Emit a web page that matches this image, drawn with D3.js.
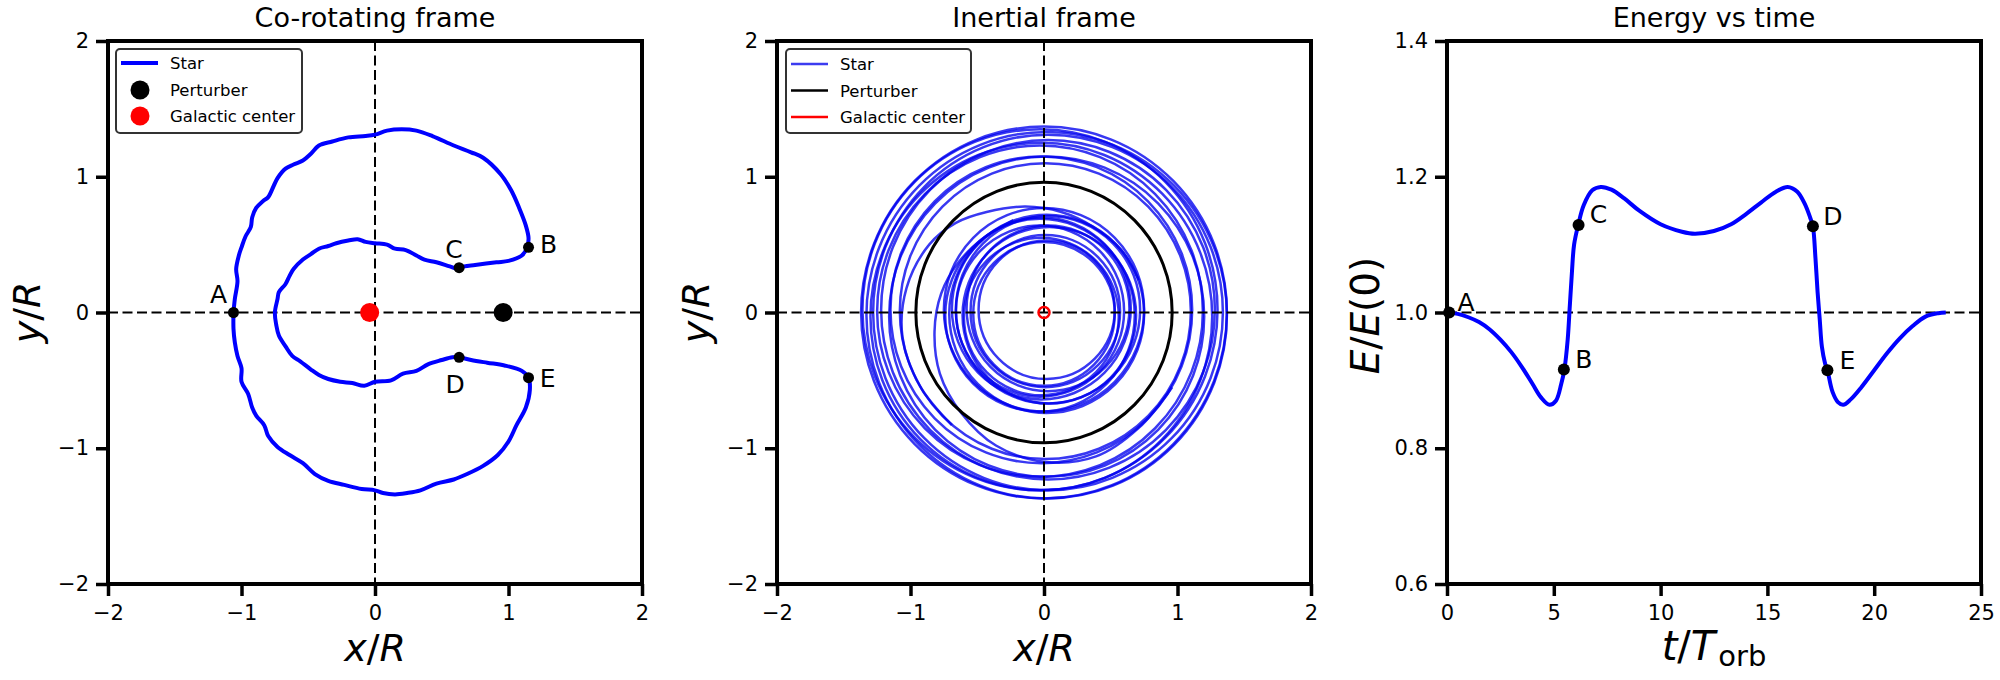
<!DOCTYPE html>
<html><head><meta charset="utf-8">
<script src="https://cdn.jsdelivr.net/npm/d3@7"></script>
<style>body{margin:0;background:#fff} svg{display:block} text{font-family:"DejaVu Sans",sans-serif;fill:#000}</style>
</head><body><svg id="c" width="2000" height="680"></svg>
<script>
// ---------- data ----------
const xyTicks = [-2, -1, 0, 1, 2];
const timeTicks = [0, 5, 10, 15, 20, 25];
const energyTicks = [0.6, 0.8, 1.0, 1.2, 1.4];

// co-rotating frame star track (A -> upper outer -> B -> C -> inner -> D -> E -> lower outer -> A)
const starX = [-1.06,-1.05,-1.03,-1.04,-1.02,-1.00,-0.97,-0.93,-0.92,-0.89,-0.84,-0.80,-0.76,-0.73,-0.67,-0.61,-0.54,-0.48,-0.42,-0.32,-0.20,-0.07,0.00,0.09,0.20,0.31,0.43,0.59,0.72,0.81,0.94,1.02,1.08,1.13,1.15,1.14,
  1.10,1.00,0.91,0.75,0.67,0.63,0.56,0.46,0.37,0.31,0.23,0.15,0.09,0.00,-0.07,-0.13,-0.20,-0.29,-0.35,-0.42,-0.48,-0.54,-0.61,-0.64,-0.67,-0.72,-0.73,-0.75,
  -0.74,-0.72,-0.67,-0.62,-0.56,-0.48,-0.42,-0.35,-0.26,-0.17,-0.08,0.00,0.12,0.21,0.31,0.40,0.50,0.58,0.63,0.72,0.84,0.97,1.10,1.15,
  1.16,1.13,1.06,1.00,0.92,0.81,0.69,0.59,0.46,0.34,0.24,0.15,0.06,0.00,-0.10,-0.23,-0.35,-0.45,-0.54,-0.64,-0.73,-0.80,-0.83,-0.89,-0.92,-0.95,-1.00,-1.00,-1.03,-1.05,-1.06,-1.06];
const starY = [0.00,0.10,0.23,0.32,0.42,0.48,0.56,0.63,0.70,0.77,0.82,0.85,0.93,0.99,1.06,1.09,1.12,1.17,1.23,1.26,1.29,1.30,1.31,1.34,1.35,1.34,1.30,1.23,1.18,1.14,1.02,0.90,0.77,0.64,0.55,0.48,
  0.42,0.38,0.37,0.35,0.34,0.32,0.34,0.37,0.39,0.42,0.46,0.47,0.50,0.51,0.52,0.54,0.53,0.51,0.49,0.47,0.43,0.39,0.32,0.27,0.21,0.15,0.10,0.00,
  -0.09,-0.17,-0.25,-0.32,-0.36,-0.42,-0.46,-0.49,-0.51,-0.52,-0.54,-0.51,-0.50,-0.45,-0.43,-0.38,-0.35,-0.33,-0.33,-0.35,-0.37,-0.39,-0.43,-0.48,
  -0.57,-0.70,-0.83,-0.95,-1.05,-1.13,-1.19,-1.23,-1.26,-1.31,-1.33,-1.34,-1.33,-1.31,-1.30,-1.27,-1.24,-1.19,-1.11,-1.05,-0.99,-0.91,-0.83,-0.76,-0.70,-0.60,-0.51,-0.41,-0.32,-0.22,-0.12,0.00];

const pointLabels = ["A", "B", "C", "D", "E"];
const pointX = [-1.06, 1.15, 0.63, 0.63, 1.15];
const pointY = [0.00, 0.48, 0.33, -0.33, -0.48];
const perturberXY = [0.96, 0.0];
const centerXY = [-0.04, 0.0];

// inertial frame: star loops (centre x, centre y, radius)
const perturberOrbitR = 0.96;
const loopCx = [0.00,0.02,-0.03,0.03,-0.02,0.03,-0.03,0.02,-0.02,0.01, 0.00,0.02,-0.03,0.03,-0.02,0.04,-0.03,0.03,-0.02,0.01,0.00,0.02];
const loopCy = [0.00,-0.02,0.02,0.00,-0.03,0.02,0.01,-0.03,0.02,0.01, 0.02,-0.01,-0.02,0.02,0.03,-0.02,0.01,0.03,-0.03,0.01,-0.01,0.02];
const loopR  = [1.37,1.35,1.33,1.31,1.28,1.25,1.22,1.18,1.13,1.09, 0.75,0.73,0.71,0.69,0.67,0.65,0.63,0.61,0.58,0.56,0.53,0.51];
// transition arcs between the outer and inner rings
const transOutInX = [-0.69,-0.93,-1.06,-1.03,-0.86,-0.66,-0.43,-0.14,0.13,0.37,0.58,0.71];
const transOutInY = [-0.83,-0.54,-0.18,0.18,0.50,0.66,0.74,0.78,0.74,0.63,0.46,0.24];
const transInOutX = [-0.23,-0.45,-0.64,-0.77,-0.82,-0.78,-0.62,-0.36,0.00,0.39,0.71,0.96];
const transInOutY = [0.68,0.55,0.37,0.14,-0.14,-0.45,-0.74,-0.98,-1.10,-1.06,-0.85,-0.55];

// energy vs time
const timeVals = [0.0,0.5,1.0,1.5,2.0,2.5,3.0,3.5,4.0,4.4,4.8,5.1,5.35,5.5,5.65,5.75,5.85,5.95,6.15,6.4,6.8,7.2,7.7,8.3,9.0,10.0,11.0,11.6,12.5,13.3,14.0,14.7,15.4,15.95,16.4,16.75,17.0,17.13,17.25,17.35,17.45,17.55,17.7,17.81,18.05,18.3,18.55,18.9,19.4,20.0,20.6,21.2,21.8,22.4,23.0,23.35];
const energyVals = [1.000,0.998,0.993,0.986,0.975,0.960,0.942,0.920,0.895,0.875,0.864,0.870,0.895,0.917,0.960,1.010,1.060,1.100,1.130,1.158,1.180,1.185,1.181,1.168,1.150,1.130,1.119,1.116,1.120,1.130,1.145,1.162,1.178,1.185,1.178,1.160,1.140,1.127,1.080,1.030,0.990,0.950,0.925,0.915,0.883,0.868,0.864,0.872,0.890,0.915,0.940,0.962,0.980,0.994,0.999,1.000];
const energyPointT = [0.1, 5.47, 6.16, 17.13, 17.81];
const energyPointE = [1.000, 0.916, 1.129, 1.127, 0.915];

// ---------- drawing ----------
const svg = d3.select("#c");
const pTop = 41, pBot = 584, W = 534;
const lefts = [108, 777, 1447];

function frame(i, xDom, yDom, xt, yt, yfmt, title) {
  const L = lefts[i];
  const x = d3.scaleLinear().domain(xDom).range([L, L + W]);
  const y = d3.scaleLinear().domain(yDom).range([pBot, pTop]);
  const g = svg.append("g");
  const ax = g.append("g").attr("transform", `translate(0,${pBot})`)
    .call(d3.axisBottom(x).tickValues(xt).tickSize(12).tickSizeOuter(0).tickPadding(9).tickFormat(d3.format("")));
  const ay = g.append("g").attr("transform", `translate(${L},0)`)
    .call(d3.axisLeft(y).tickValues(yt).tickSize(12).tickSizeOuter(0).tickPadding(7).tickFormat(yfmt));
  [ax, ay].forEach(a => {
    a.select(".domain").remove();
    a.selectAll(".tick line").attr("stroke", "#000").attr("stroke-width", 3.5);
    a.selectAll(".tick text").attr("font-size", 21).attr("font-family", "DejaVu Sans").attr("fill", "#000");
  });
  svg.append("text").attr("x", L + W / 2).attr("y", 27).attr("text-anchor", "middle")
    .attr("font-size", 27).text(title);
  const body = svg.append("g");
  return { x, y, body, L };
}

function spine(L) {
  svg.append("rect").attr("x", L).attr("y", pTop).attr("width", W).attr("height", pBot - pTop)
    .attr("fill", "none").attr("stroke", "#000").attr("stroke-width", 4);
}

function dashed(g, x1, y1, x2, y2) {
  g.append("line").attr("x1", x1).attr("y1", y1).attr("x2", x2).attr("y2", y2)
    .attr("stroke", "#000").attr("stroke-width", 2).attr("stroke-dasharray", "10,4.5");
}

function xyAxisLabels(L) {
  const tx = svg.append("text").attr("x", L + W / 2).attr("y", 661).attr("text-anchor", "middle").attr("font-size", 38);
  tx.append("tspan").attr("font-style", "italic").text("x");
  tx.append("tspan").text("/");
  tx.append("tspan").attr("font-style", "italic").text("R");
  const ty = svg.append("text").attr("transform", `translate(${L - 68},${(pTop + pBot) / 2}) rotate(-90)`).attr("text-anchor", "middle").attr("font-size", 38);
  ty.append("tspan").attr("font-style", "italic").text("y");
  ty.append("tspan").text("/");
  ty.append("tspan").attr("font-style", "italic").text("R");
}

// ----- Panel 1 -----
{
  const p = frame(0, [-2, 2], [-2, 2], xyTicks, xyTicks, d3.format(""), "Co-rotating frame");
  const { x, y, body } = p;
  dashed(body, x(0), pTop, x(0), pBot);
  dashed(body, p.L, y(0), p.L + W, y(0));
  const pts = starX.map((v, i) => [x(v), y(starY[i])]);
  body.append("path").attr("d", d3.line().curve(d3.curveCatmullRom.alpha(0.5))(pts))
    .attr("fill", "none").attr("stroke", "#0000ff").attr("stroke-width", 4).attr("stroke-linejoin", "round");
  body.append("circle").attr("cx", x(centerXY[0])).attr("cy", y(centerXY[1])).attr("r", 9.5).attr("fill", "#ff0000");
  body.append("circle").attr("cx", x(perturberXY[0])).attr("cy", y(perturberXY[1])).attr("r", 9.5).attr("fill", "#000");
  const offs = { A: [-15, -18], B: [20, -3], C: [-5, -18], D: [-4, 27], E: [19, 1] };
  pointLabels.forEach((lab, i) => {
    body.append("circle").attr("cx", x(pointX[i])).attr("cy", y(pointY[i])).attr("r", 5.5).attr("fill", "#000");
    body.append("text").attr("x", x(pointX[i]) + offs[lab][0]).attr("y", y(pointY[i]) + offs[lab][1])
      .attr("text-anchor", "middle").attr("dominant-baseline", "central").attr("font-size", 25).text(lab);
  });
  spine(p.L);
  const lg = svg.append("g").attr("transform", `translate(${p.L + 8},49)`);
  lg.append("rect").attr("width", 186).attr("height", 84).attr("rx", 4).attr("fill", "#fff").attr("stroke", "#333").attr("stroke-width", 2);
  lg.append("line").attr("x1", 5).attr("x2", 42).attr("y1", 14).attr("y2", 14).attr("stroke", "#0000ff").attr("stroke-width", 4);
  lg.append("circle").attr("cx", 24).attr("cy", 41).attr("r", 9.5).attr("fill", "#000");
  lg.append("circle").attr("cx", 24).attr("cy", 67).attr("r", 9.5).attr("fill", "#ff0000");
  ["Star", "Perturber", "Galactic center"].forEach((t, k) => lg.append("text").attr("x", 54).attr("y", 14 + 26.5 * k + 6).attr("font-size", 16.5).text(t));
  xyAxisLabels(p.L);
}

// ----- Panel 2 -----
{
  const p = frame(1, [-2, 2], [-2, 2], xyTicks, xyTicks, d3.format(""), "Inertial frame");
  const { x, y, body } = p;
  const sx = x(1) - x(0), sy = y(0) - y(1);
  const starStyle = sel => sel.attr("fill", "none").attr("stroke", "#0000ee").attr("stroke-opacity", 0.78).attr("stroke-width", 2.5);
  loopR.forEach((r, i) => {
    body.append("ellipse").attr("cx", x(loopCx[i])).attr("cy", y(loopCy[i])).attr("rx", r * sx).attr("ry", r * sy).call(starStyle);
  });
  [[transOutInX, transOutInY], [transInOutX, transInOutY]].forEach(([tx, ty]) => {
    body.append("path").attr("d", d3.line().curve(d3.curveCatmullRom.alpha(0.5))(tx.map((v, i) => [x(v), y(ty[i])]))).call(starStyle);
  });
  body.append("ellipse").attr("cx", x(0)).attr("cy", y(0)).attr("rx", perturberOrbitR * sx).attr("ry", perturberOrbitR * sy)
    .attr("fill", "none").attr("stroke", "#000").attr("stroke-width", 3);
  dashed(body, x(0), pTop, x(0), pBot);
  dashed(body, p.L, y(0), p.L + W, y(0));
  body.append("circle").attr("cx", x(0)).attr("cy", y(0)).attr("r", 5.5).attr("fill", "none").attr("stroke", "#ff0000").attr("stroke-width", 2.5);
  spine(p.L);
  const lg = svg.append("g").attr("transform", `translate(${p.L + 9},49)`);
  lg.append("rect").attr("width", 185).attr("height", 84).attr("rx", 4).attr("fill", "#fff").attr("stroke", "#333").attr("stroke-width", 2);
  [["#3c3cf0", "Star"], ["#000", "Perturber"], ["#ff0000", "Galactic center"]].forEach(([c, t], k) => {
    lg.append("line").attr("x1", 5).attr("x2", 42).attr("y1", 15 + 26.5 * k).attr("y2", 15 + 26.5 * k).attr("stroke", c).attr("stroke-width", 2.5);
    lg.append("text").attr("x", 54).attr("y", 15 + 26.5 * k + 6).attr("font-size", 16.5).text(t);
  });
  xyAxisLabels(p.L);
}

// ----- Panel 3 -----
{
  const p = frame(2, [0, 25], [0.6, 1.4], timeTicks, energyTicks, d3.format(".1f"), "Energy vs time");
  const { x, y, body } = p;
  dashed(body, x(0), y(1), x(25), y(1));
  const pts = timeVals.map((t, i) => [x(t), y(energyVals[i])]);
  body.append("path").attr("d", d3.line().curve(d3.curveCatmullRom.alpha(0.5))(pts))
    .attr("fill", "none").attr("stroke", "#0000ff").attr("stroke-width", 4);
  pointLabels.forEach((lab, i) => {
    body.append("circle").attr("cx", x(energyPointT[i])).attr("cy", y(energyPointE[i])).attr("r", 6).attr("fill", "#000");
    body.append("text").attr("x", x(energyPointT[i]) + (i === 0 ? 17 : 20)).attr("y", y(energyPointE[i]) - 10)
      .attr("text-anchor", "middle").attr("dominant-baseline", "central").attr("font-size", 25).text(lab);
  });
  spine(p.L);
  const tx = svg.append("text").attr("x", p.L + W / 2).attr("y", 660).attr("text-anchor", "middle").attr("font-size", 40);
  tx.append("tspan").attr("font-style", "italic").text("t");
  tx.append("tspan").text("/");
  tx.append("tspan").attr("font-style", "italic").text("T");
  tx.append("tspan").attr("font-size", 29).attr("dx", 3).attr("dy", 6).text("orb");
  const ty = svg.append("text").attr("transform", `translate(${p.L - 68},${(pTop + pBot) / 2 + 3}) rotate(-90)`).attr("text-anchor", "middle").attr("font-size", 39);
  ty.append("tspan").attr("font-style", "italic").text("E");
  ty.append("tspan").text("/");
  ty.append("tspan").attr("font-style", "italic").text("E");
  ty.append("tspan").text("(0)");
}
</script></body></html>
